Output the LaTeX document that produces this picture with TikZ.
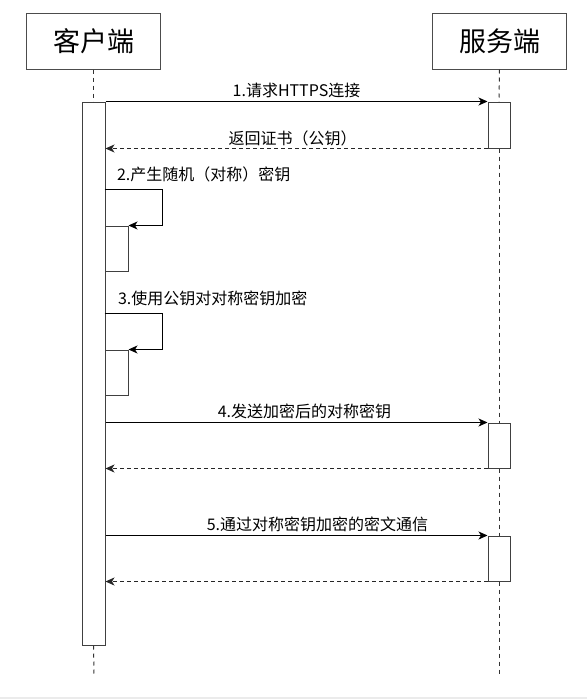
\documentclass[tikz,border=0pt]{standalone}
\usepackage{fontspec}
\newfontfamily\cjk{Noto Sans CJK SC}
\usetikzlibrary{arrows.meta}
\usetikzlibrary{calc}
\usetikzlibrary{positioning}

\begin{document}
\begin{tikzpicture}[
  x=1pt, y=-1pt,
  line width=1pt,
  actor/.style={draw=black!70, minimum width=134pt, minimum height=56pt, inner sep=0pt,
    font=\cjk\fontsize{27}{27}\selectfont},
  bar/.style={draw=black!75, fill=white, minimum width=23pt, inner sep=0pt},
  life/.style={black!80, dash pattern=on 4pt off 4pt},
  msg/.style={-{Stealth[length=9pt, width=8pt, inset=2.5pt]}},
  reply/.style={msg, dash pattern=on 4pt off 3pt, black!85},
  lbl/.style={fill=white, text=black, inner sep=1pt, font=\cjk\fontsize{16}{16}\selectfont},
  ]

  \useasboundingbox (0,0) rectangle (587,699);
  \fill[black!8] (0,697) rectangle (587,699);

  % Participants
  \node[actor] (client) at (93.5, 41) {客户端};
  \node[actor] (server) at (499.5, 41) {服务端};

  % Activation bars
  \node[bar, minimum height=543pt] (cbar) at (93.5, 373.5) {};
  \node[bar, minimum width=22pt, minimum height=46pt] (sbarA) at (499, 125) {};
  \node[bar, minimum width=22pt, minimum height=45pt] (sbarB) at (499, 445.5) {};
  \node[bar, minimum width=22pt, minimum height=45pt] (sbarC) at (499, 558.5) {};
  \node[bar, minimum height=45pt] (selfA) at (116.5, 248.5) {};
  \node[bar, minimum height=45pt] (selfB) at (116.5, 372.5) {};

  \coordinate (cend) at (94, 674);
  \coordinate (send) at (499, 677);

  % Lifelines
  \draw[life] (client.south) -- (cbar.north);
  \draw[life] (cbar.south) -- (cend);
  \draw[life] (server.south) -- (sbarA.north);
  \draw[life] (sbarA.south) -- (sbarB.north);
  \draw[life] (sbarB.south) -- (sbarC.north);
  \draw[life] (sbarC.south) -- (send);

  % Request and reply
  \draw[msg] (cbar.east |- sbarA.north) -- (sbarA.north west)
    node[lbl, midway, above=2pt] {1.请求HTTPS连接};
  \draw[reply] (sbarA.south west) -- (cbar.east |- sbarA.south)
    node[lbl, midway, above=1pt, xshift=-4pt] {返回证书（公钥）};

  % Self messages
  \draw[msg] ($(selfA.north west)+(0,-36)$)
    node[lbl, anchor=south west, inner sep=0pt, xshift=12pt, yshift=7pt] {2.产生随机（对称）密钥}
    -| ($(selfA.north east)+(34,0)$) -- (selfA.north east);
  \draw[msg] ($(selfB.north west)+(0,-36)$)
    node[lbl, anchor=south west, inner sep=0pt, xshift=13pt, yshift=7pt] {3.使用公钥对对称密钥加密}
    -| ($(selfB.north east)+(34,0)$) -- (selfB.north east);

  \draw[msg] (cbar.east |- sbarB.north) -- (sbarB.north west)
    node[lbl, midway, above=2pt, xshift=8pt] {4.发送加密后的对称密钥};
  \draw[reply] (sbarB.south west) -- (cbar.east |- sbarB.south);

  \draw[msg] (cbar.east |- sbarC.north) -- (sbarC.north west)
    node[lbl, midway, above=2pt, xshift=21pt] {5.通过对称密钥加密的密文通信};
  \draw[reply] (sbarC.south west) -- (cbar.east |- sbarC.south);

\end{tikzpicture}
\end{document}
